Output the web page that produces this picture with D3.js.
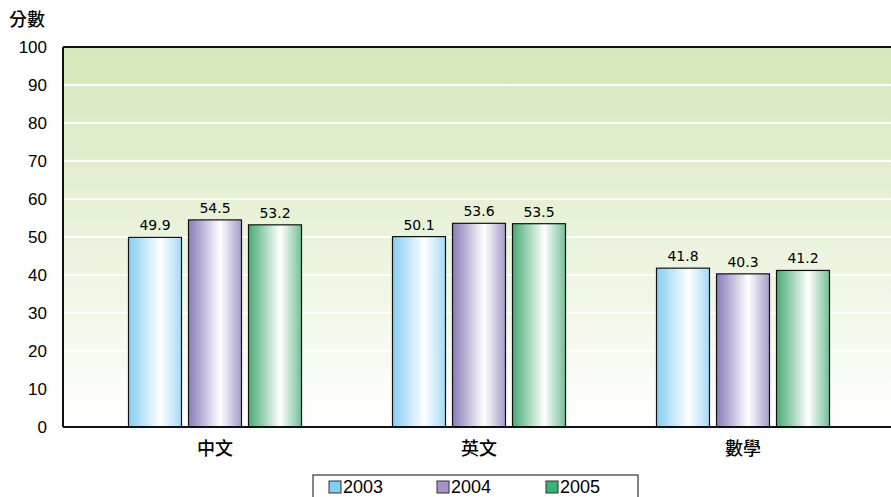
<!DOCTYPE html>
<html>
<head>
<meta charset="utf-8">
<script src="https://cdn.jsdelivr.net/npm/d3@7"></script>
<style>
  body { margin: 0; background: #fff; }
  svg { display: block; }
</style>
</head>
<body>
<svg width="891" height="497"></svg>
<script>
const subjects = ["中文", "英文", "數學"];
const years = ["2003", "2004", "2005"];
const scores2003 = [49.9, 50.1, 41.8];
const scores2004 = [54.5, 53.6, 40.3];
const scores2005 = [53.2, 53.5, 41.2];
const yTicks = [0, 10, 20, 30, 40, 50, 60, 70, 80, 90, 100];

const series = [scores2003, scores2004, scores2005];
const edgeColors = ["#86cdf2", "#8a7bb7", "#47aa74"];
const swatchColors = ["#7fcff5", "#a892cc", "#3cb371"];

const svg = d3.select("svg");
const defs = svg.append("defs");

const plot = { left: 63, top: 47, right: 891, bottom: 427 };

const y = d3.scaleLinear().domain([0, 100]).range([plot.bottom, plot.top]);
const x = d3.scaleBand().domain(subjects).range([83, 875]).paddingInner(0).paddingOuter(0);
const xs = d3.scaleBand().domain(years).range([-86.5, 86.5]).paddingInner(0.117).paddingOuter(0);

// background gradient
const bg = defs.append("linearGradient").attr("id", "bg")
  .attr("x1", 0).attr("y1", 0).attr("x2", 0).attr("y2", 1);
bg.append("stop").attr("offset", "0%").attr("stop-color", "#d5e7b9");
bg.append("stop").attr("offset", "100%").attr("stop-color", "#ffffff");

edgeColors.forEach((c, i) => {
  const g = defs.append("linearGradient").attr("id", "bar" + i)
    .attr("x1", 0).attr("y1", 0).attr("x2", 1).attr("y2", 0);
  g.append("stop").attr("offset", "0%").attr("stop-color", c);
  g.append("stop").attr("offset", "60%").attr("stop-color", "#ffffff");
  g.append("stop").attr("offset", "100%").attr("stop-color", d3.interpolateRgb(c, "#fff")(0.25));
});

svg.append("rect")
  .attr("x", plot.left).attr("y", plot.top)
  .attr("width", plot.right - plot.left).attr("height", plot.bottom - plot.top)
  .attr("fill", "url(#bg)");

// gridlines
svg.append("g").selectAll("line")
  .data(yTicks.filter(d => d > 0 && d < 100))
  .enter().append("line")
  .attr("x1", plot.left).attr("x2", plot.right)
  .attr("y1", d => y(d)).attr("y2", d => y(d))
  .attr("stroke", "#ffffff").attr("stroke-width", 2);

// bars
subjects.forEach((s, si) => {
  const g = svg.append("g").attr("transform", `translate(${x(s) + x.bandwidth() / 2},0)`);
  series.forEach((vals, yi) => {
    const v = vals[si];
    g.append("rect")
      .attr("x", xs(years[yi])).attr("y", y(v))
      .attr("width", xs.bandwidth()).attr("height", y(0) - y(v))
      .attr("fill", `url(#bar${yi})`)
      .attr("stroke", "#111").attr("stroke-width", 1.2);
    g.append("text")
      .attr("x", xs(years[yi]) + xs.bandwidth() / 2).attr("y", y(v) - 7)
      .attr("text-anchor", "middle")
      .attr("font-family", "DejaVu Sans")
      .attr("font-size", 14)
      .attr("fill", "#000")
      .text(v.toFixed(1));
  });
});

// frame: top and left, bottom axis
svg.append("line").attr("x1", plot.left).attr("x2", plot.right)
  .attr("y1", plot.top).attr("y2", plot.top).attr("stroke", "#111").attr("stroke-width", 2);
svg.append("line").attr("x1", plot.left).attr("x2", plot.left)
  .attr("y1", plot.top).attr("y2", plot.bottom).attr("stroke", "#111").attr("stroke-width", 2);
svg.append("line").attr("x1", plot.left).attr("x2", plot.right)
  .attr("y1", plot.bottom).attr("y2", plot.bottom).attr("stroke", "#111").attr("stroke-width", 2);

// y axis labels
const yAxis = svg.append("g").attr("transform", `translate(${plot.left},0)`)
  .call(d3.axisLeft(y).tickValues(yTicks).tickSize(0).tickPadding(16));
yAxis.select(".domain").remove();
yAxis.selectAll("text")
  .attr("font-family", "Liberation Sans, Arial, sans-serif")
  .attr("font-size", 17).attr("fill", "#000");

// x axis labels
const xAxis = svg.append("g").attr("transform", `translate(0,${plot.bottom})`)
  .call(d3.axisBottom(x).tickSize(0).tickPadding(15));
xAxis.select(".domain").remove();
xAxis.selectAll("text")
  .attr("font-family", "Noto Sans CJK TC, sans-serif")
  .attr("font-size", 18).attr("font-weight", 500).attr("fill", "#000");

// y title
svg.append("text").attr("x", 9).attr("y", 26)
  .attr("font-family", "Noto Sans CJK TC, sans-serif")
  .attr("font-size", 18).attr("font-weight", 500)
  .text("分數");

// legend
const legend = svg.append("g");
legend.append("rect").attr("x", 313).attr("y", 475).attr("width", 325).attr("height", 30)
  .attr("fill", "#fff").attr("stroke", "#333").attr("stroke-width", 1.2);
const legendX = [329, 437, 546];
years.forEach((yr, i) => {
  legend.append("rect").attr("x", legendX[i]).attr("y", 481).attr("width", 12).attr("height", 12)
    .attr("fill", swatchColors[i]).attr("stroke", "#333").attr("stroke-width", 1);
  legend.append("text").attr("x", legendX[i] + 14).attr("y", 493)
    .attr("font-family", "Liberation Sans, Arial, sans-serif")
    .attr("font-size", 18).text(yr);
});
</script>
</body>
</html>
